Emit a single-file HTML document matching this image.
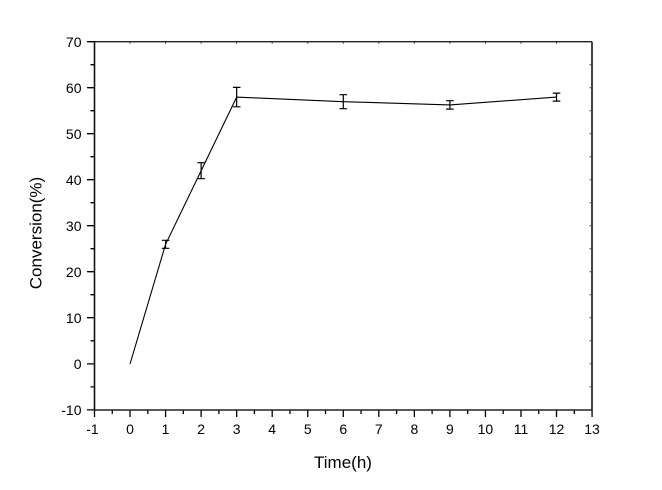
<!DOCTYPE html>
<html><head><meta charset="utf-8"><style>
html,body{margin:0;padding:0;background:#fff;}
svg{display:block;}
text{font-family:"Liberation Sans",Arial,sans-serif;fill:#000;}
</style></head><body>
<svg width="662" height="490" viewBox="0 0 662 490" xmlns="http://www.w3.org/2000/svg">
<rect width="662" height="490" fill="#fff"/>
<g stroke="#000" stroke-width="1.3">
<path d="M94.5 410v7M130.04 410v7M165.58 410v7M201.12 410v7M236.66 410v7M272.2 410v7M307.74 410v7M343.28 410v7M378.82 410v7M414.36 410v7M449.9 410v7M485.44 410v7M520.98 410v7M556.52 410v7M592.06 410v7"/>
<path d="M112.27 410v4M147.81 410v4M183.35 410v4M218.89 410v4M254.43 410v4M289.97 410v4M325.51 410v4M361.05 410v4M396.59 410v4M432.13 410v4M467.67 410v4M503.21 410v4M538.75 410v4M574.29 410v4"/>
<path d="M94.5 41.7h-7.5M94.5 87.7h-7.5M94.5 133.7h-7.5M94.5 179.7h-7.5M94.5 225.7h-7.5M94.5 271.7h-7.5M94.5 317.7h-7.5M94.5 363.9h-7.5M94.5 409.9h-7.5"/>
<path d="M94.5 64.7h-4M94.5 110.7h-4M94.5 156.7h-4M94.5 202.7h-4M94.5 248.7h-4M94.5 294.7h-4M94.5 340.8h-4M94.5 386.9h-4"/>
</g>
<g stroke="#444" stroke-width="1">
<path d="M130.04 41.7v2M165.58 41.7v2M201.12 41.7v2M236.66 41.7v2M272.2 41.7v2M307.74 41.7v2M343.28 41.7v2M378.82 41.7v2M414.36 41.7v2M449.9 41.7v2M485.44 41.7v2M520.98 41.7v2M556.52 41.7v2"/>
<path d="M592 64.7h-2.5M592 87.7h-2.5M592 110.7h-2.5M592 133.7h-2.5M592 156.7h-2.5M592 179.7h-2.5M592 202.7h-2.5M592 225.7h-2.5M592 248.7h-2.5M592 271.7h-2.5M592 294.7h-2.5M592 317.7h-2.5M592 340.8h-2.5M592 363.9h-2.5M592 386.9h-2.5"/>
</g>
<path d="M94.5 41.7H592" stroke="#222" stroke-width="1.3" fill="none"/>
<path d="M592 41.7V410" stroke="#444" stroke-width="2" fill="none"/>
<path d="M94.5 410H592" stroke="#222" stroke-width="1.6" fill="none"/>
<path d="M94.5 41.2V410.6" stroke="#111" stroke-width="1.6" fill="none"/>
<polyline fill="none" stroke="#000" stroke-width="1.1" points="130.04,363.9 165.58,244.3 201.12,170.7 236.66,97.1 343.28,101.7 449.9,104.9 556.52,97.1"/>
<g stroke="#000" stroke-width="1.2" fill="none">
<path d="M165.58 240.3V248.3M161.8 240.3h7.6M161.8 248.3h7.6"/>
<path d="M201.12 162.7V178.7M197.3 162.7h7.6M197.3 178.7h7.6"/>
<path d="M236.66 87.4V106.8M232.9 87.4h7.6M232.9 106.8h7.6"/>
<path d="M343.28 94.7V108.7M339.5 94.7h7.6M339.5 108.7h7.6"/>
<path d="M449.9 100.7V109.1M446.1 100.7h7.6M446.1 109.1h7.6"/>
<path d="M556.52 93.1V101.1M552.7 93.1h7.6M552.7 101.1h7.6"/>
</g>
<g font-size="14" text-anchor="end">
<text x="81.5" y="46.8">70</text>
<text x="81.5" y="92.8">60</text>
<text x="81.5" y="138.8">50</text>
<text x="81.5" y="184.8">40</text>
<text x="81.5" y="230.8">30</text>
<text x="81.5" y="276.8">20</text>
<text x="81.5" y="322.8">10</text>
<text x="81.5" y="369">0</text>
<text x="81.5" y="415">-10</text>
</g>
<g font-size="14" text-anchor="middle">
<text x="92.5" y="434">-1</text>
<text x="130.04" y="434">0</text>
<text x="165.58" y="434">1</text>
<text x="201.12" y="434">2</text>
<text x="236.66" y="434">3</text>
<text x="272.2" y="434">4</text>
<text x="307.74" y="434">5</text>
<text x="343.28" y="434">6</text>
<text x="378.82" y="434">7</text>
<text x="414.36" y="434">8</text>
<text x="449.9" y="434">9</text>
<text x="485.44" y="434">10</text>
<text x="520.98" y="434">11</text>
<text x="556.52" y="434">12</text>
<text x="592.06" y="434">13</text>
</g>
<text x="343" y="468" font-size="17" text-anchor="middle">Time(h)</text>
<text transform="translate(41.5,233) rotate(-90)" font-size="17" text-anchor="middle">Conversion(%)</text>
</svg>
</body></html>
